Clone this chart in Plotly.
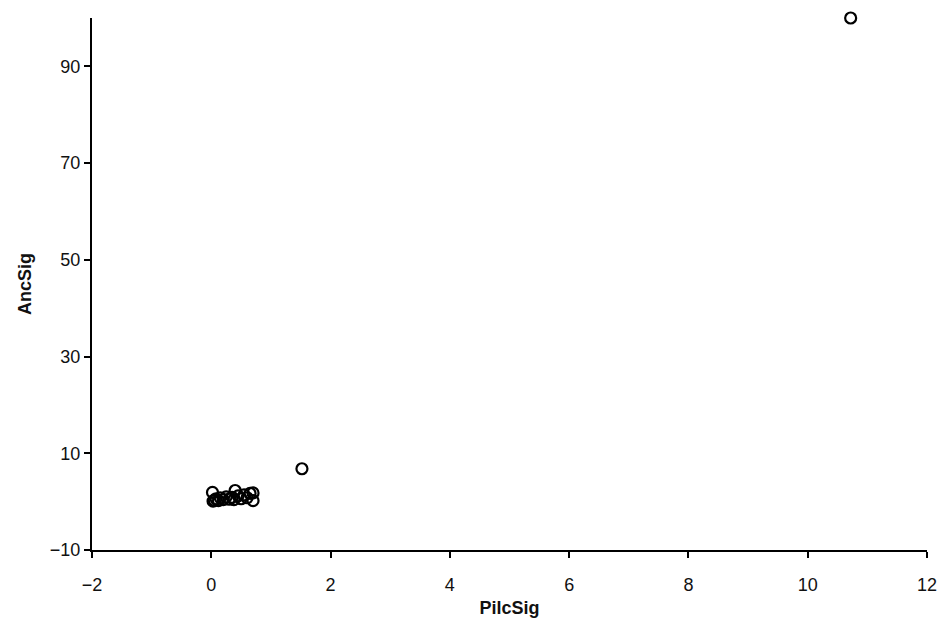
import plotly.graph_objects as go

# PilcSig vs AncSig observations
pilc_sig = [0.02, 0.05, 0.08, 0.12, 0.15, 0.2, 0.25, 0.3, 0.35, 0.4, 0.45, 0.5,
            0.55, 0.6, 0.65, 0.03, 0.38, 0.7, 0.7, 1.52, 10.72]
anc_sig = [1.9, 0.3, 0.6, 0.2, 0.8, 0.4, 1.0, 0.5, 0.9, 2.3, 1.2, 0.6,
           1.4, 0.8, 1.7, 0.1, 0.4, 1.8, 0.2, 6.8, 100.0]

x_ticks = [-2, 0, 2, 4, 6, 8, 10, 12]
y_ticks = [-10, 10, 30, 50, 70, 90]

fig = go.Figure(
    go.Scatter(
        x=pilc_sig,
        y=anc_sig,
        mode="markers",
        marker=dict(symbol="circle-open", size=11, color="black",
                    line=dict(width=2.2, color="black")),
        showlegend=False,
        cliponaxis=False,
    )
)

family = "Liberation Sans, Arial, sans-serif"
tick_font = dict(family=family, size=18, color="#111")
title_font = dict(family=family, size=18, color="#111")

fig.update_layout(
    width=943,
    height=630,
    autosize=False,
    margin=dict(l=92, r=16, t=18, b=80, autoexpand=False),
    paper_bgcolor="white",
    plot_bgcolor="white",
    font=tick_font,
)
fig.update_xaxes(
    range=[-2, 12],
    tickvals=x_ticks,
    tickfont=tick_font,
    ticks="outside",
    ticklen=6,
    tickwidth=1.5,
    tickcolor="black",
    ticklabelstandoff=11,
    automargin=False,
    showline=True,
    linecolor="black",
    linewidth=2,
    showgrid=False,
    zeroline=False,
    title=dict(text="<b>PilcSig</b>", standoff=8, font=title_font),
)
fig.update_yaxes(
    range=[-10, 100],
    tickvals=y_ticks,
    tickfont=tick_font,
    ticks="outside",
    ticklen=6,
    tickwidth=1.5,
    tickcolor="black",
    automargin=False,
    showline=True,
    linecolor="black",
    linewidth=2,
    showgrid=False,
    zeroline=False,
    title=dict(text="<b>AncSig</b>", standoff=14, font=title_font),
)

fig.write_html("out.html")
